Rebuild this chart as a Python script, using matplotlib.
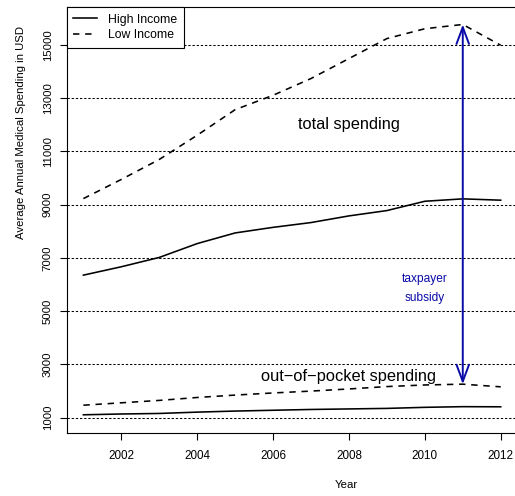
import matplotlib
matplotlib.use("Agg")
import matplotlib.pyplot as plt

plt.rcParams["font.family"] = ["Liberation Sans", "DejaVu Sans"]

years = [2001, 2002, 2003, 2004, 2005, 2006, 2007, 2008, 2009, 2010, 2011, 2012]

# total spending per person
high_total = [6355, 6670, 7020, 7540, 7940, 8150, 8330, 8580, 8780, 9130, 9220, 9170]
low_total = [9230, 9950, 10700, 11610, 12570, 13110, 13740, 14490, 15240, 15610, 15770, 14990]

# out-of-pocket part
high_oop = [1110, 1140, 1160, 1210, 1250, 1280, 1310, 1330, 1350, 1390, 1415, 1410]
low_oop = [1470, 1560, 1650, 1760, 1850, 1930, 2000, 2080, 2170, 2230, 2260, 2160]

grid_levels = [1000, 3000, 5000, 7000, 9000, 11000, 13000, 15000]
x_ticks = [2002, 2004, 2006, 2008, 2010, 2012]

subsidy_year = 2011
arrow_color = "#0a0aa8"

W, H = 515, 496
fig = plt.figure(figsize=(W / 100, H / 100), dpi=100)
ax = fig.add_axes([66.7 / W, 63 / H, (517.4 - 66.7) / W, (433 - 7) / H])

for y in grid_levels:
    ax.axhline(y, color="black", lw=0.75, dashes=(2.2, 1.8), zorder=1)

lw = 1.15
dash = (4.0, 3.6)
ax.plot(years, high_total, color="black", lw=lw, label="High Income", zorder=3)
ax.plot(years, low_total, color="black", lw=lw, dashes=dash, label="Low Income", zorder=3)
ax.plot(years, high_oop, color="black", lw=lw, zorder=3)
ax.plot(years, low_oop, color="black", lw=lw, dashes=dash, zorder=3)

# subsidy = gap between total and out-of-pocket for the low income group
i = years.index(subsidy_year)
ax.annotate("", xy=(subsidy_year, low_total[i]), xytext=(subsidy_year, low_oop[i]),
            arrowprops=dict(arrowstyle="<->,head_length=1.2,head_width=0.45",
                            color=arrow_color, lw=1.4, shrinkA=0, shrinkB=0),
            zorder=4)

ax.text(2008, 12000, "total spending", fontsize=11.8, ha="center", va="center")
ax.text(2008, 2540, "out\u2212of\u2212pocket spending", fontsize=11.8,
        ha="center", va="center")
ax.text(2010, 6200, "taxpayer", fontsize=8.6, color=arrow_color, ha="center", va="center")
ax.text(2010, 5500, "subsidy", fontsize=8.6, color=arrow_color, ha="center", va="center")

ax.set_xlim(2000.56, 2012.44)
ax.set_ylim(426, 16426)
ax.set_xticks(x_ticks)
ax.set_yticks(grid_levels)
ax.set_xticklabels([str(x) for x in x_ticks], fontsize=8.4)
ax.set_yticklabels([str(y) for y in grid_levels], fontsize=8.2, rotation=90, va="center")
ax.tick_params(direction="out", length=5, width=0.8, pad=5)
ax.tick_params(axis="x", pad=7)
for s in ax.spines.values():
    s.set_linewidth(0.8)

fig.text(346 / W, 1 - 485 / H, "Year", fontsize=8.2, ha="center", va="center")
fig.text(20.7 / W, 1 - 133 / H, "Average Annual Medical Spending in USD", fontsize=8.2,
         rotation=90, ha="center", va="center")

leg = ax.legend(loc="upper left", bbox_to_anchor=(0, 1), borderaxespad=0, fancybox=False,
                edgecolor="black", framealpha=1, fontsize=8.8, handlelength=1.9,
                handletextpad=0.95, borderpad=0.55, labelspacing=0.3)
leg.get_frame().set_linewidth(0.8)

fig.savefig("out.png", dpi=100)
